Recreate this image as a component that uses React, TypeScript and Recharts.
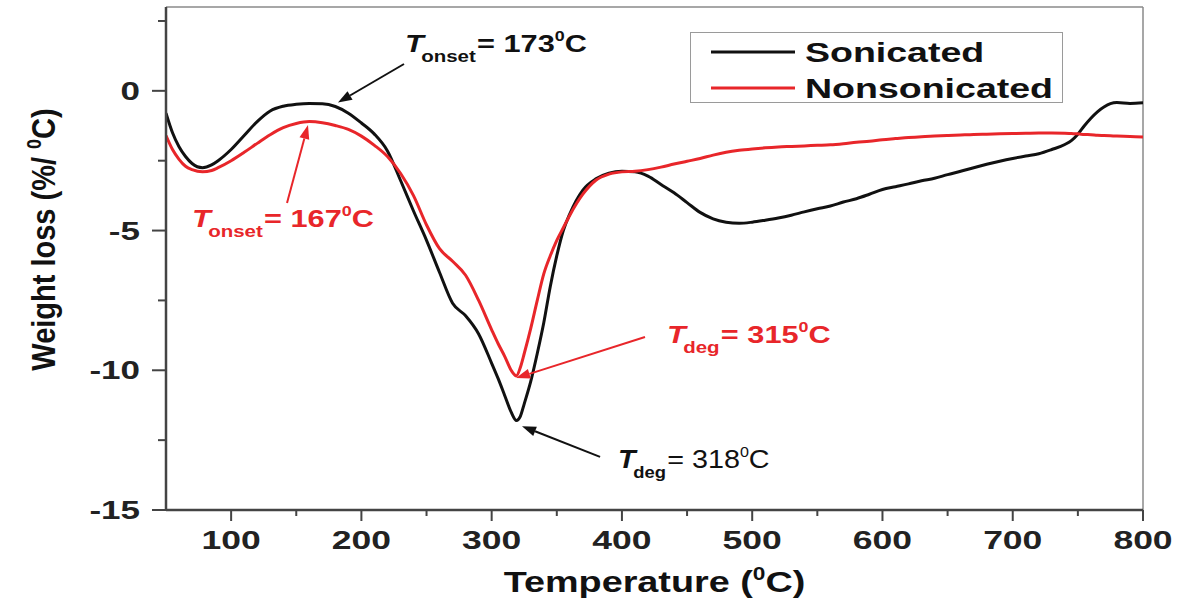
import React from 'react';
import { LineChart, Line, XAxis, YAxis, ReferenceLine, ReferenceDot, Legend } from 'recharts';

const FONT = "'Liberation Sans', Arial, Helvetica, sans-serif";

const temperature = [
  50, 55, 60, 65, 70, 78, 85, 90, 100, 110, 120, 130, 140, 150, 160, 170, 180, 190, 200, 210,
  220, 230, 240, 250, 260, 270, 280, 290, 300, 305, 310, 315, 319, 322, 325, 330, 335, 340, 345, 350,
  355, 360, 370, 380, 390, 400, 410, 420, 430, 440, 450, 460, 470, 480, 490, 500, 510, 520, 530, 540,
  550, 560, 570, 580, 590, 600, 610, 620, 630, 640, 650, 660, 670, 680, 690, 700, 710, 720, 730, 740,
  745, 750, 755, 760, 765, 770, 775, 780, 790, 800,
];

const sonicated = [
  -0.8, -1.5, -2.0, -2.35, -2.6, -2.75, -2.65, -2.5, -2.1, -1.6, -1.1, -0.72, -0.55, -0.48, -0.45, -0.46, -0.56, -0.8, -1.15, -1.55,
  -2.15, -3.2, -4.3, -5.35, -6.5, -7.6, -8.05, -8.7, -9.75, -10.3, -10.9, -11.5, -11.8, -11.65, -11.2, -10.4, -9.4, -8.3, -7.0, -5.9,
  -5.0, -4.4, -3.55, -3.15, -2.95, -2.88, -2.9, -3.05, -3.35, -3.65, -4.0, -4.35, -4.58, -4.7, -4.74, -4.7, -4.63, -4.55, -4.45, -4.33,
  -4.22, -4.12, -3.98, -3.86, -3.7, -3.53, -3.43, -3.33, -3.22, -3.13, -3.0, -2.88, -2.75, -2.63, -2.52, -2.42, -2.33, -2.25, -2.1, -1.92,
  -1.78, -1.55, -1.25, -0.98, -0.75, -0.58, -0.46, -0.42, -0.45, -0.43,
];

const nonsonicated = [
  -1.6, -2.1, -2.45, -2.7, -2.82, -2.9, -2.85, -2.75, -2.5, -2.2, -1.88, -1.57, -1.32, -1.17, -1.1, -1.14, -1.24, -1.38, -1.62, -1.95,
  -2.35, -2.95, -3.75, -4.8, -5.65, -6.1, -6.6, -7.5, -8.55, -9.05, -9.5, -10.0, -10.2, -9.9, -9.4, -8.5, -7.5, -6.55, -5.9, -5.35,
  -4.9, -4.45, -3.7, -3.2, -2.98, -2.9, -2.88, -2.82, -2.73, -2.62, -2.52, -2.42, -2.3, -2.2, -2.13, -2.08, -2.04, -2.01, -1.99, -1.97,
  -1.95, -1.93, -1.89, -1.84, -1.8, -1.75, -1.71, -1.67, -1.64, -1.62, -1.6, -1.58, -1.56, -1.55, -1.54, -1.53, -1.52, -1.51, -1.51, -1.52,
  -1.53, -1.54, -1.56, -1.57, -1.59, -1.6, -1.61, -1.62, -1.63, -1.65,
];

const seriesNames = ['Sonicated', 'Nonsonicated'];
const seriesColors = ['#111111', '#e8262a'];
const xTicks = [100, 150, 200, 250, 300, 350, 400, 450, 500, 550, 600, 650, 700, 750, 800];
const yTicks = [-15, -12.5, -10, -7.5, -5, -2.5, 0, 2.5];

const data = temperature.map((t, i) => ({ t, s: sonicated[i], n: nonsonicated[i] }));

const XTick = (props: any) => {
  const { x, y, payload } = props;
  const v = payload.value;
  const major = v % 100 === 0;
  return (
    <g>
      <line x1={x} x2={x} y1={y} y2={y + (major ? 11 : 6)} stroke="#444" strokeWidth={2} />
      {major && (
        <g transform={`translate(${x},${y + 39}) scale(1.42,1)`}>
          <text x={0} y={0} textAnchor="middle" fontSize={25} fontWeight="bold" fill="#222" fontFamily={FONT}>
            {v}
          </text>
        </g>
      )}
    </g>
  );
};

const YTick = (props: any) => {
  const { x, y, payload } = props;
  const v = payload.value;
  const major = v % 5 === 0;
  return (
    <g>
      <line x1={x} x2={x - (major ? 14 : 8)} y1={y} y2={y} stroke="#444" strokeWidth={2} />
      {major && (
        <g transform={`translate(${x - 26},${y + 9}) scale(1.4,1)`}>
          <text x={0} y={0} textAnchor="end" fontSize={25} fontWeight="bold" fill="#222" fontFamily={FONT}>
            {v}
          </text>
        </g>
      )}
    </g>
  );
};

const arrowShape = (color: string) => (p: any) => {
  const { x1, y1, x2, y2 } = p;
  const dx = x2 - x1;
  const dy = y2 - y1;
  const len = Math.hypot(dx, dy) || 1;
  const ux = dx / len;
  const uy = dy / len;
  const hl = 14;
  const hw = 5;
  const bx = x2 - ux * hl;
  const by = y2 - uy * hl;
  const pts = `${x2},${y2} ${bx - uy * hw},${by + ux * hw} ${bx + uy * hw},${by - ux * hw}`;
  return (
    <g>
      <line x1={x1} y1={y1} x2={bx} y2={by} stroke={color} strokeWidth={2} />
      <polygon points={pts} fill={color} />
    </g>
  );
};

const annotText = (
  color: string,
  sub: string,
  value: string,
  size: number,
  scale: number,
  valueWeight: string,
) => (p: any) => (
  <g transform={`translate(${p.cx},${p.cy}) scale(${scale},1)`}>
    <text x={0} y={0} fontFamily={FONT} fontWeight="bold" fontSize={size} fill={color}>
      <tspan fontStyle="italic">T</tspan>
      <tspan fontSize={16} dx={-2} dy={10}>{sub}</tspan>
      <tspan fontSize={size} dy={-10} dx={1} fontWeight={valueWeight}>{`= ${value}`}</tspan>
      <tspan fontSize={14} dy={-11} fontWeight={valueWeight}>0</tspan>
      <tspan fontSize={size} dy={11} fontWeight={valueWeight}>C</tspan>
    </text>
  </g>
);

const LegendBox = (props: any) => {
  const raw = props.payload || [];
  const payload = [...raw].sort(
    (a: any, b: any) => seriesNames.indexOf(a.value) - seriesNames.indexOf(b.value),
  );
  return (
    <svg width={374} height={72} style={{ display: 'block' }}>
      <rect x={0.5} y={0.5} width={372} height={70} fill="#fff" stroke="#9a9a9a" strokeWidth={1} />
      {payload.map((e: any, i: number) => (
        <g key={i}>
          <line x1={21} x2={105} y1={20 + 36 * i} y2={20 + 36 * i} stroke={e.color} strokeWidth={3} />
          <g transform={`translate(115,${30 + 36 * i}) scale(1.34,1)`}>
            <text x={0} y={0} fontSize={28} fontWeight="bold" fill="#111" fontFamily={FONT}>
              {e.value}
            </text>
          </g>
        </g>
      ))}
    </svg>
  );
};

export default function App() {
  return (
    <div style={{ position: 'absolute', left: 0, top: 0, width: 1180, height: 605, background: '#fff' }}>
      <LineChart
        width={1180}
        height={605}
        data={data}
        margin={{ top: 7, right: 37, bottom: 0, left: 0 }}
        style={{ fontFamily: FONT }}
      >
        <XAxis
          dataKey="t"
          type="number"
          domain={[50, 800]}
          ticks={xTicks}
          interval={0}
          allowDataOverflow
          height={95}
          tickSize={0}
          tickMargin={0}
          tickLine={false}
          tick={<XTick />}
          axisLine={{ stroke: '#444', strokeWidth: 2.5 }}
          label={{
            content: (p: any) => {
              const vb = p.viewBox || { x: 166, y: 510, width: 977, height: 95 };
              const cx = vb.x + vb.width / 2;
              return (
                <g transform={`translate(${cx},${vb.y + 82}) scale(1.26,1)`}>
                  <text x={0} y={0} textAnchor="middle" fontSize={30} fontWeight="bold" fill="#111" fontFamily={FONT}>
                    Temperature (<tspan fontSize={18} dy={-12}>0</tspan><tspan dy={12}>C)</tspan>
                  </text>
                </g>
              );
            },
          }}
        />
        <YAxis
          type="number"
          domain={[-15, 3]}
          ticks={yTicks}
          interval={0}
          allowDataOverflow
          width={166}
          tickSize={0}
          tickMargin={0}
          tickLine={false}
          tick={<YTick />}
          axisLine={{ stroke: '#444', strokeWidth: 2.5 }}
          label={{
            content: (p: any) => {
              const vb = p.viewBox || { x: 0, y: 7, width: 166, height: 503 };
              const cy = vb.y + vb.height / 2 - 19;
              return (
                <g transform={`translate(${vb.x + 55},${cy}) rotate(-90) scale(1,1.15)`}>
                  <text x={0} y={0} textAnchor="middle" fontSize={29} fontWeight="bold" fill="#111" fontFamily={FONT}>
                    Weight loss (%/ <tspan fontSize={18} dy={-12}>0</tspan><tspan dy={12}>C)</tspan>
                  </text>
                </g>
              );
            },
          }}
        />
        <ReferenceLine y={3} stroke="#8a8a8a" strokeWidth={1.5} ifOverflow="visible" />
        <ReferenceLine x={800} stroke="#8a8a8a" strokeWidth={1.5} ifOverflow="visible" />
        <Legend
          layout="horizontal"
          verticalAlign="middle"
          align="center"
          itemSorter={null as any}
          content={<LegendBox />}
          wrapperStyle={{ left: 690, top: 32, width: 374, height: 72 }}
        />
        <Line
          type="monotone"
          dataKey="s"
          name={seriesNames[0]}
          stroke={seriesColors[0]}
          strokeWidth={3}
          dot={false}
          activeDot={false}
          isAnimationActive={false}
        />
        <Line
          type="monotone"
          dataKey="n"
          name={seriesNames[1]}
          stroke={seriesColors[1]}
          strokeWidth={3}
          dot={false}
          activeDot={false}
          isAnimationActive={false}
        />
        <ReferenceLine
          segment={[{ x: 232.7, y: 0.96 }, { x: 182, y: -0.42 }]}
          ifOverflow="visible"
          shape={arrowShape('#111111')}
        />
        <ReferenceLine
          segment={[{ x: 142.9, y: -4.01 }, { x: 159, y: -1.22 }]}
          ifOverflow="visible"
          shape={arrowShape('#e8262a')}
        />
        <ReferenceLine
          segment={[{ x: 417.7, y: -8.81 }, { x: 318.7, y: -10.28 }]}
          ifOverflow="visible"
          shape={arrowShape('#e8262a')}
        />
        <ReferenceLine
          segment={[{ x: 383.2, y: -13.1 }, { x: 323.3, y: -12.0 }]}
          ifOverflow="visible"
          shape={arrowShape('#111111')}
        />
        <ReferenceDot x={233.5} y={1.39} r={0} ifOverflow="visible" shape={annotText('#111111', 'onset', '173', 24, 1.28, 'bold')} />
        <ReferenceDot x={70} y={-4.87} r={0} ifOverflow="visible" shape={annotText('#e8262a', 'onset', '167', 24, 1.28, 'bold')} />
        <ReferenceDot x={434.6} y={-9.03} r={0} ifOverflow="visible" shape={annotText('#e8262a', 'deg', '315', 24, 1.28, 'bold')} />
        <ReferenceDot x={397} y={-13.5} r={0} ifOverflow="visible" shape={annotText('#111111', 'deg', '318', 25, 1.15, 'normal')} />
      </LineChart>
    </div>
  );
}
